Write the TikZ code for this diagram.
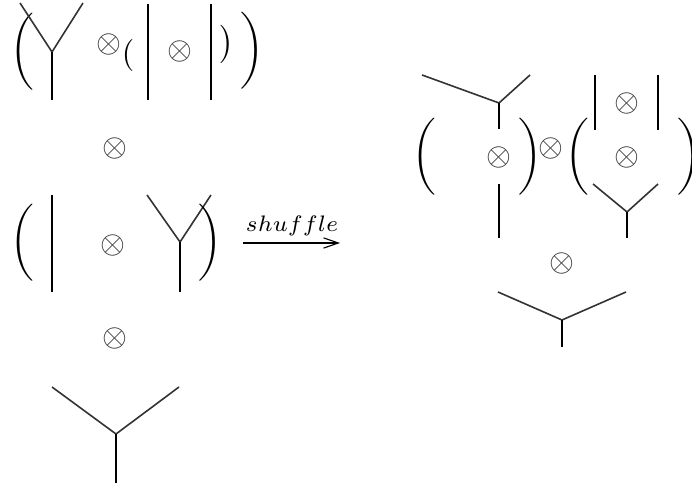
\documentclass[tikz,border=0pt]{standalone}
\usepackage{amsmath,amssymb}
\usetikzlibrary{arrows.meta}
\tikzset{
  stem/.style={line width=0.85pt,black},         % thick trunk / strand
  arm/.style={line width=0.5pt,black!80},        % thin branch of a vertex
  op/.style={inner sep=0pt,text=black!80},       % tensor sign
  par/.style={inner sep=0pt},                    % bracket
  shuf/.style={line width=0.85pt,-{Straight Barb[line width=0.35pt,length=4.6pt,width=3.2pt]}},
  lbl/.style={font=\scriptsize,inner sep=0pt},
}
\begin{document}
\begin{tikzpicture}[x=0.312pt,y=-0.312pt]
  \useasboundingbox (0,0) rectangle (692,487);
  % ---- left column, first factor ----
  \node[par] (lpa) at (22,52) {$\biggl($};
  \coordinate (ja) at (52,52);
  \draw[arm] (20,3) -- (ja) -- (83,3);
  \draw[stem] (ja) -- (52,100);
  \node[op] (ta) at (109,45) {$\otimes$};
  \node[par] (lpb) at (128,56) {$($};
  \draw[stem] (148,4) -- (148,100);
  \node[op] (tb) at (180,52) {$\otimes$};
  \draw[stem] (211,4) -- (211,100);
  \node[par] (rpb) at (227,44) {$\bigr)$};
  \node[par] (rpa) at (252,51) {$\biggr)$};
  \node[op] (tc) at (115,148) {$\otimes$};
  % ---- second factor ----
  \node[par] (lpc) at (22,243) {$\biggl($};
  \draw[stem] (52,195) -- (52,292);
  \node[op] (td) at (113,245) {$\otimes$};
  \coordinate (jb) at (180,242);
  \draw[arm] (147,195) -- (jb) -- (211,195);
  \draw[stem] (jb) -- (180,292);
  \node[par] (rpc) at (210,243) {$\biggr)$};
  \node[op] (te) at (115,338) {$\otimes$};
  % ---- third factor ----
  \coordinate (jc) at (116,434);
  \draw[arm] (52,387) -- (jc) -- (179,387);
  \draw[stem] (jc) -- (116,483);
  % ---- arrow ----
  \coordinate (as) at (243,243);
  \coordinate (ae) at (340,243);
  \draw[shuf] (as) -- (ae);
  \node[lbl] (sh) at (292,226) {$shuffle$};
  % ---- right side ----
  \coordinate (jd) at (499,103);
  \draw[arm] (422,75) -- (jd) -- (530,75);
  \draw[stem] (jd) -- (499,129);
  \node[par] (lpd) at (424,157) {$\biggl($};
  \node[op] (tf) at (499,157) {$\otimes$};
  \draw[stem] (499,184) -- (499,238);
  \node[par] (rpd) at (530,157) {$\biggr)$};
  \node[op] (tg) at (551,148) {$\otimes$};
  \node[par] (lpe) at (577,157) {$\biggl($};
  \draw[stem] (595,75) -- (595,130);
  \node[op] (th) at (627,103) {$\otimes$};
  \draw[stem] (658,75) -- (658,130);
  \node[op] (ti) at (627,157) {$\otimes$};
  \coordinate (je) at (627,212);
  \draw[arm] (593,184) -- (je) -- (658,184);
  \draw[stem] (je) -- (627,238);
  \node[par] (rpe) at (689,157) {$\biggr)$};
  \node[op] (tj) at (562,263) {$\otimes$};
  \coordinate (jf) at (562,320);
  \draw[arm] (498,292) -- (jf) -- (626,292);
  \draw[stem] (jf) -- (562,347);
\end{tikzpicture}
\end{document}
